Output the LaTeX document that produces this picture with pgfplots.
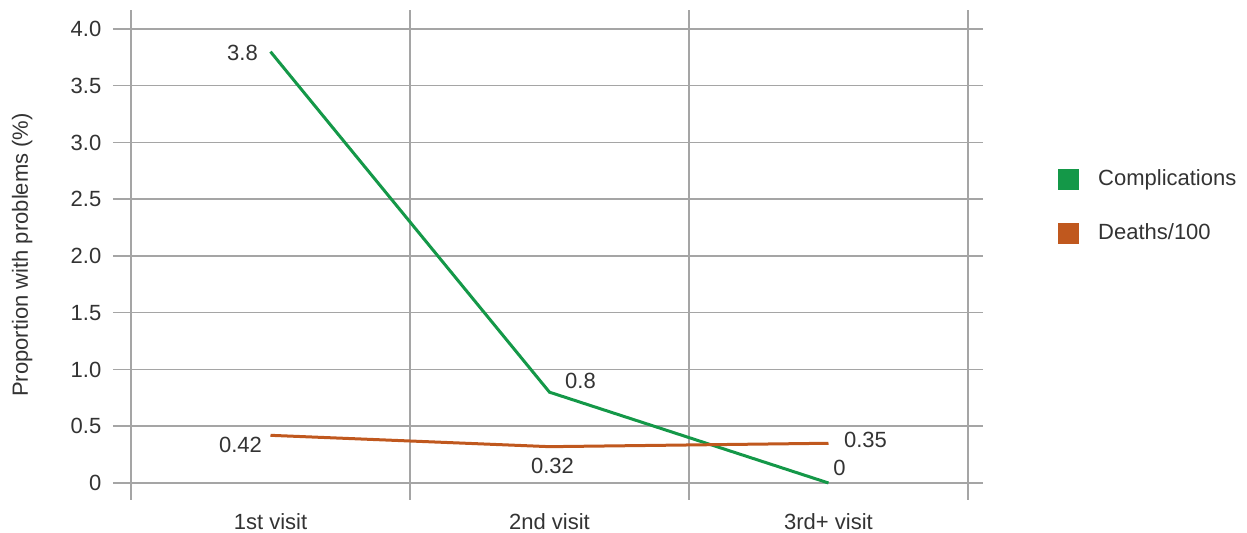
\documentclass[border=0pt]{standalone}
\usepackage{fontspec}
\setmainfont{Liberation Sans}
\usepackage{pgfplots}
\usepackage{pgfplotstable}
\pgfplotsset{compat=1.18}
\definecolor{cgreen}{RGB}{20,152,72}
\definecolor{corange}{RGB}{192,88,30}
\definecolor{ctext}{RGB}{51,51,51}
\definecolor{cgrid}{RGB}{165,165,165}

\pgfplotstableread{
x y dx dy label
0.5 3.8 -14 -0.5 3.8
1.5 0.8 15.5 5.5 0.8
2.5 0 5.5 7.5 0
}\comp
\pgfplotstableread{
x y dx dy label
0.5 0.42 -15 -5 0.42
1.5 0.32 1.5 -9.5 0.32
2.5 0.35 18.5 1.5 0.35
}\deaths

\begin{document}
\begin{tikzpicture}[font=\fontsize{11}{13}\selectfont]
\path[use as bounding box] (-56.5pt,-16.5pt) rectangle (567pt,250pt);
\begin{axis}[
  at={(0pt,0pt)}, anchor=south west,
  scale only axis, width=435pt, height=245pt,
  xmin=-0.0645, xmax=3.0538, ymin=-0.1498, ymax=4.1674,
  axis line style={draw=none},
  xtick={0.5,1.5,2.5}, xticklabels={1st visit,2nd visit,3rd+ visit},
  minor xtick={0,1,2,3}, xminorgrids, xmajorgrids=false,
  ytick={0,0.5,1,1.5,2,2.5,3,3.5,4},
  yticklabels={0,0.5,1.0,1.5,2.0,2.5,3.0,3.5,4.0},
  ymajorgrids,
  major tick length=0pt, minor tick length=0pt,
  grid style={cgrid, line width=0.75pt},
  minor grid style={cgrid, line width=0.75pt},
  tick label style={text=ctext, font=\fontsize{11}{13}\selectfont},
  xticklabel style={yshift=-3pt},
  yticklabel style={xshift=-2.3pt},
  ylabel={Proportion with problems (\%)},
  ylabel style={at={(axis description cs:-0.1045,0.5)}, anchor=center, rotate=0, text=ctext, font=\fontsize{11}{13}\selectfont},
  legend style={at={(axis description cs:1.0862,0.600)}, anchor=west, draw=none, fill=none,
    inner sep=0pt, row sep=13.5pt, font=\fontsize{11}{13}\selectfont, text=ctext,
    /tikz/every odd column/.append style={column sep=7.5pt}},
  legend cell align=left,
  clip=false,
]
\addplot[cgreen, line width=1.5pt, forget plot,
  nodes near coords, point meta=explicit symbolic,
  visualization depends on={\thisrow{dx}\as\dx},
  visualization depends on={\thisrow{dy}\as\dy},
  every node near coord/.append style={anchor=center, xshift=\dx pt, yshift=\dy pt, text=ctext, inner sep=0pt, font=\fontsize{11}{13}\selectfont}]
  table[x=x, y=y, meta=label]{\comp};
\addplot[corange, line width=1.5pt, forget plot,
  nodes near coords, point meta=explicit symbolic,
  visualization depends on={\thisrow{dx}\as\dx},
  visualization depends on={\thisrow{dy}\as\dy},
  every node near coord/.append style={anchor=center, xshift=\dx pt, yshift=\dy pt, text=ctext, inner sep=0pt, font=\fontsize{11}{13}\selectfont}]
  table[x=x, y=y, meta=label]{\deaths};
\addlegendimage{legend image code/.code={\fill[cgreen] (0pt,-5pt) rectangle (10pt,5pt);}}
\addlegendentry{Complications}
\addlegendimage{legend image code/.code={\fill[corange] (0pt,-5pt) rectangle (10pt,5pt);}}
\addlegendentry{Deaths/100}
\end{axis}
\end{tikzpicture}
\end{document}
